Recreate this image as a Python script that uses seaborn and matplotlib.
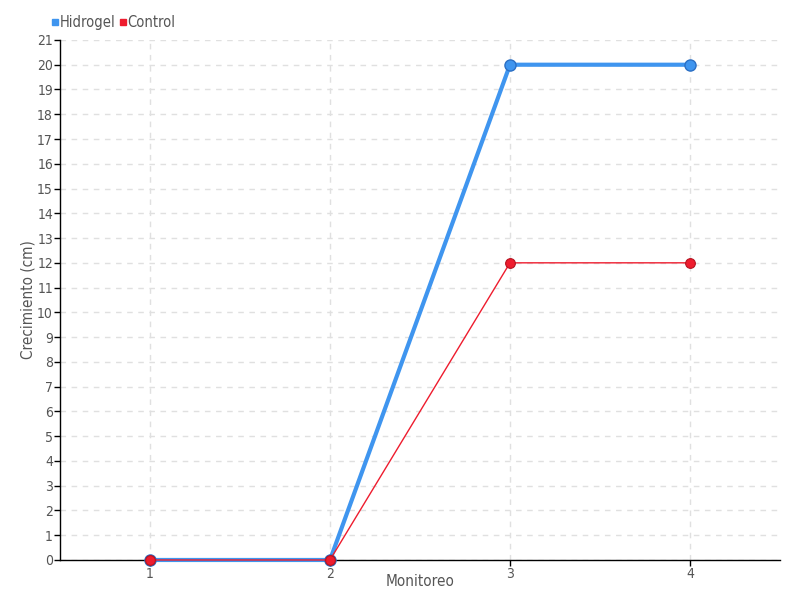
import matplotlib
matplotlib.use("Agg")
import matplotlib.pyplot as plt
import seaborn as sns
import pandas as pd
from matplotlib.lines import Line2D

monitoreo = [1, 2, 3, 4]
hidrogel = [0, 0, 20, 20]
control = [0, 0, 12, 12]
series_names = ["Hidrogel", "Control"]
y_ticks = list(range(0, 22))

sns.set_style("white")
plt.rcParams['font.family'] = ['DejaVu Sans']
plt.rcParams['font.stretch'] = 'condensed'

df = pd.DataFrame({
    "Monitoreo": monitoreo * 2,
    "Crecimiento": hidrogel + control,
    "Serie": [series_names[0]] * 4 + [series_names[1]] * 4,
})

fig = plt.figure(figsize=(8, 6), dpi=100)
ax = fig.add_axes([0.075, 0.0667, 0.9, 0.8667])

blue = "#3f95ef"
red = "#ee1c2e"
sns.lineplot(data=df[df.Serie == "Hidrogel"], x="Monitoreo", y="Crecimiento", ax=ax,
             color=blue, linewidth=3, marker="o", markersize=8,
             markeredgecolor="#2b6fc4", markeredgewidth=1, legend=False, zorder=3,
             clip_on=False)
sns.lineplot(data=df[df.Serie == "Control"], x="Monitoreo", y="Crecimiento", ax=ax,
             color=red, linewidth=1.0, marker="o", markersize=7,
             markeredgecolor="#b5121f", markeredgewidth=0.8, legend=False, zorder=4,
             clip_on=False)

ax.set_xlim(0.5, 4.5)
ax.set_ylim(0, 21)
ax.set_xticks(monitoreo)
ax.set_yticks(y_ticks)
ax.grid(True, color="#e0e0e0", linestyle=(0, (4, 4)), linewidth=1)
ax.set_axisbelow(True)
for s in ["top", "right"]:
    ax.spines[s].set_visible(False)
for s in ["left", "bottom"]:
    ax.spines[s].set_color("black")
    ax.spines[s].set_linewidth(1)
ax.tick_params(axis="both", colors="black", labelcolor="#555555", labelsize=10,
               length=4, width=1, direction="out", left=True, bottom=True, pad=1)
ax.set_xlabel("Monitoreo", color="#555555", fontsize=11, labelpad=-5)
ax.set_ylabel("Crecimiento (cm)", color="#555555", fontsize=11, labelpad=1)

handles = [Line2D([], [], marker="s", linestyle="", color=blue, markersize=4.5),
           Line2D([], [], marker="s", linestyle="", color=red, markersize=4.5)]
fig.legend(handles, series_names, loc="upper left", bbox_to_anchor=(0.047, 0.997),
           ncol=2, frameon=False, handletextpad=0.0, columnspacing=0.2,
           handlelength=0.6, fontsize=10.5, labelcolor="#555555")

fig.savefig("out.png", dpi=100)
